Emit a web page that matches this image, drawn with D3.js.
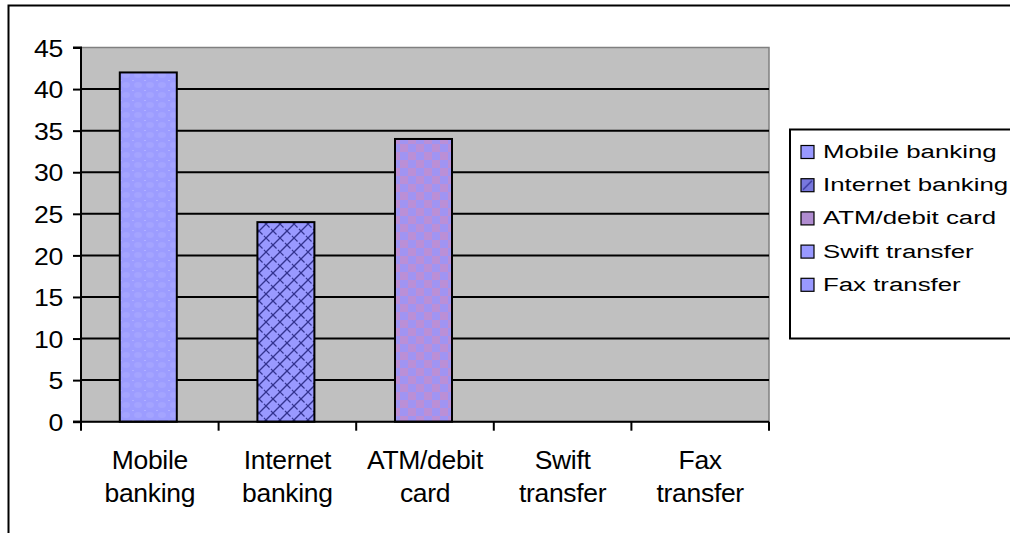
<!DOCTYPE html>
<html><head><meta charset="utf-8">
<script src="https://cdn.jsdelivr.net/npm/d3@7"></script>
<style>
html,body{margin:0;padding:0;background:#fff;}
svg{display:block;font-family:"Liberation Sans",Arial,sans-serif;}
</style></head>
<body>
<svg id="c" width="1010" height="533"></svg>
<script>
const categories = ["Mobile banking","Internet banking","ATM/debit card","Swift transfer","Fax transfer"];
const catLines = [["Mobile","banking"],["Internet","banking"],["ATM/debit","card"],["Swift","transfer"],["Fax","transfer"]];
const values = [42, 24, 34, 0, 0];
const yTicks = [0,5,10,15,20,25,30,35,40,45];
const fills = ["url(#pMobile)","url(#pInternet)","url(#pATM)","#9999ff","#9999ff"];
const legendFills = ["#9999ff","url(#pLegInternet)","#b08cd0","#9999ff","#9999ff"];

(function(){
const svg = d3.select("#c");
const defs = svg.append("defs");

const pm = defs.append("pattern").attr("id","pMobile").attr("patternUnits","userSpaceOnUse").attr("width",12).attr("height",10);
pm.append("rect").attr("width",12).attr("height",10).attr("fill","#9c9cff");
pm.append("ellipse").attr("cx",6).attr("cy",5).attr("rx",4).attr("ry",3).attr("fill","#a4a4ff");
pm.append("rect").attr("x",0).attr("y",0).attr("width",2).attr("height",1).attr("fill","#b0b0ff");

const pi = defs.append("pattern").attr("id","pInternet").attr("patternUnits","userSpaceOnUse").attr("width",14).attr("height",14);
pi.append("rect").attr("width",14).attr("height",14).attr("fill","#9999ff");
pi.append("path").attr("d","M0,14 L14,0 M-3,3 L3,-3 M11,17 L17,11").attr("stroke","#33338f").attr("stroke-width",1.4);
pi.append("path").attr("d","M0,0 L7,7 M7,7 L14,14").attr("stroke","#33338f").attr("stroke-width",1.2).attr("stroke-dasharray","5,2");

const pa = defs.append("pattern").attr("id","pATM").attr("patternUnits","userSpaceOnUse").attr("width",16).attr("height",16);
pa.append("rect").attr("width",16).attr("height",16).attr("fill","#a094f2");
pa.append("rect").attr("x",0).attr("y",0).attr("width",8).attr("height",8).attr("fill","#bb8fd6");
pa.append("rect").attr("x",8).attr("y",8).attr("width",8).attr("height",8).attr("fill","#bb8fd6");

const pl = defs.append("pattern").attr("id","pLegInternet").attr("patternUnits","userSpaceOnUse").attr("width",13).attr("height",13);
pl.append("rect").attr("width",13).attr("height",13).attr("fill","#7777dd");
pl.append("path").attr("d","M2,11 L11,2").attr("stroke","#333399").attr("stroke-width",1.2);

svg.append("path").attr("d","M8.5,533 L8.5,5.5 L1010,5.5").attr("fill","none").attr("stroke","#000").attr("stroke-width",2);

const pLeft = 81, pRight = 769, pTop = 47.5, pBottom = 421.7;
const x = d3.scaleBand().domain(categories).range([pLeft,pRight]).paddingInner(0).paddingOuter(0);
const y = d3.scaleLinear().domain([0,45]).range([pBottom,pTop]);

svg.append("rect").attr("x",pLeft).attr("y",pTop).attr("width",pRight-pLeft).attr("height",pBottom-pTop)
  .attr("fill","#c0c0c0").attr("stroke","#808080").attr("stroke-width",1.5);

svg.append("g").selectAll("line").data(yTicks.filter(d=>d>0 && d<45)).join("line")
  .attr("x1",pLeft).attr("x2",pRight).attr("y1",d=>y(d)).attr("y2",d=>y(d))
  .attr("stroke","#000").attr("stroke-width",2);

const bw = 57;
svg.append("g").selectAll("rect").data(values.map((v,i)=>({v,i,c:categories[i]})).filter(d=>d.v>0)).join("rect")
  .attr("x",d=>x(d.c)+x.bandwidth()/2-bw/2-1.5).attr("width",bw)
  .attr("y",d=>y(d.v)).attr("height",d=>y(0)-y(d.v))
  .attr("fill",d=>fills[d.i]).attr("stroke","#000").attr("stroke-width",2);

const yAxis = d3.axisLeft(y).tickValues(yTicks).tickSize(8).tickPadding(18);
const gy = svg.append("g").attr("transform",`translate(${pLeft},0)`).call(yAxis);
gy.select(".domain").attr("stroke","#000").attr("stroke-width",2).attr("d",`M-8,${pTop}H0V${pBottom}H-8`);
gy.selectAll(".tick line").attr("stroke","#000").attr("stroke-width",2);
gy.selectAll(".tick text").attr("font-size",24).attr("letter-spacing",-0.3).attr("fill","#000")
  .attr("font-family","'Liberation Sans',Arial,sans-serif").attr("dy","0.36em")
  .attr("x",-16.2).attr("transform","scale(1.11,1)");

svg.append("line").attr("x1",pLeft-8).attr("x2",pRight).attr("y1",pBottom).attr("y2",pBottom).attr("stroke","#000").attr("stroke-width",2);
const xt = categories.map(c=>x(c)).concat([pRight]);
svg.append("g").selectAll("line").data(xt).join("line")
  .attr("x1",d=>d).attr("x2",d=>d).attr("y1",pBottom).attr("y2",pBottom+9).attr("stroke","#000").attr("stroke-width",2);

const xl = svg.append("g").selectAll("text").data(categories).join("text")
  .attr("transform",d=>`translate(${x(d)+x.bandwidth()/2},469) scale(1.06,1)`).attr("text-anchor","middle")
  .attr("font-size",25).attr("letter-spacing",-0.3).attr("fill","#000");
xl.each(function(d,i){
  const t = d3.select(this);
  catLines[i].forEach((s,j)=>t.append("tspan").attr("x",0).attr("dy",j?33:0).text(s));
});

svg.append("rect").attr("x",790).attr("y",129.5).attr("width",230).attr("height",209).attr("fill","#fff").attr("stroke","#000").attr("stroke-width",2);
const lg = svg.append("g").selectAll("g").data(categories).join("g")
  .attr("transform",(d,i)=>`translate(801,${145.5+i*33.2})`);
lg.append("rect").attr("width",13).attr("height",13).attr("fill",(d,i)=>legendFills[i]).attr("stroke","#000").attr("stroke-width",1.2);
lg.append("text").attr("transform","translate(22,12.5) scale(1.36,1)").attr("font-size",19).attr("fill","#000").text(d=>d);
})();
</script>
</body></html>
